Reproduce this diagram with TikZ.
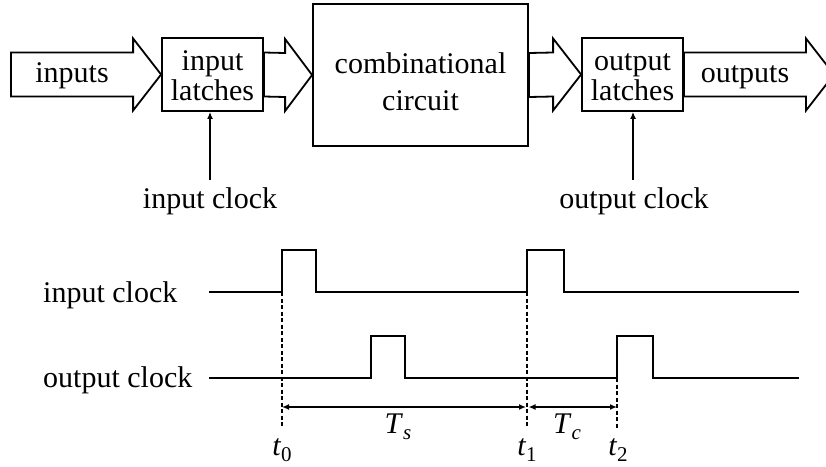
\documentclass[tikz,border=0pt]{standalone}
\usepackage{fontspec}
\setmainfont{Liberation Serif}
\usetikzlibrary{calc,arrows.meta}
\newcommand\sublab[1]{\raisebox{-6pt}{\fontsize{21}{21}\selectfont #1}}
\newcommand\fatarr[3]{% #1 start coordinate (same y as tip), #2 tip, #3 head length
  \draw[fat] ($(#1)+(0,-22)$) -- ($(#2)+(-#3,-22)$) -- ($(#2)+(-#3,-36)$) -- (#2)
    -- ($(#2)+(-#3,36)$) -- ($(#2)+(-#3,22)$) -- ($(#1)+(0,22)$) -- cycle;}
\begin{document}
\begin{tikzpicture}[x=1pt,y=-1pt,
  font=\fontsize{30}{34}\selectfont,
  box/.style={draw, line width=1.8pt, inner sep=0pt},
  fat/.style={draw, line width=1.8pt, line join=miter},
  clk/.style={-{Latex[length=7pt,width=6pt]}, line width=1.8pt},
  sig/.style={line width=1.8pt},
  dsh/.style={dash pattern=on 4pt off 2.5pt, line width=1.4pt},
  dim/.style={{Latex[length=7pt,width=6pt]}-{Latex[length=7pt,width=6pt]}, line width=1.5pt},
  lbl/.style={inner sep=0pt, anchor=base}]
\useasboundingbox (0,0) rectangle (826,466);
\clip (0,0) rectangle (826,466);

% ---------- block diagram ----------
\node[box, minimum width=101pt, minimum height=73pt] (il) at (212.5,74.5) {};
\node[box, minimum width=215pt, minimum height=142pt] (cc) at (420.5,75) {};
\node[box, minimum width=101pt, minimum height=73pt] (ol) at (632.5,74.5) {};
\coordinate (in0) at (11,74.5);
\coordinate (outtip) at (834,74.5);

\fatarr{in0}{il.west}{28}
\fatarr{il.east}{cc.west}{27}
\fatarr{cc.east}{ol.west}{28}
\fatarr{ol.east}{outtip}{28}

\node[lbl] (tin) at (72,82) {inputs};
\node[lbl] (tout) at (745,82) {outputs};
\node[lbl] (il1) at (212.5,70) {input};
\node[lbl] (il2) at (212.5,100) {latches};
\node[lbl] (cc1) at (420.5,73) {combinational};
\node[lbl] (cc2) at (420.5,110) {circuit};
\node[lbl] (ol1) at (632.5,70) {output};
\node[lbl] (ol2) at (632.5,100) {latches};

\coordinate (ic0) at (210,180);
\coordinate (oc0) at (633,180);
\draw[clk] (ic0) -- (ic0 |- il.south);
\draw[clk] (oc0) -- (oc0 |- ol.south);
\node[lbl] (icl) at (210,208) {input clock};
\node[lbl] (ocl) at (634,208) {output clock};

% ---------- timing diagram ----------
\node[lbl, anchor=base west] (ilab) at (43,302) {input clock};
\node[lbl, anchor=base west] (olab) at (43,387) {output clock};

\coordinate (t0) at (282,292);
\coordinate (t1) at (527,292);
\coordinate (t2) at (617,378);

\draw[sig] (209,292) -- (t0) -- (282,250) -- (316,250) -- (316,292) -- (t1)
  -- (527,250) -- (564,250) -- (564,292) -- (799,292);
\draw[sig] (209,378) -- (371,378) -- (371,336) -- (405,336) -- (405,378) -- (t2)
  -- (617,336) -- (653,336) -- (653,378) -- (799,378);

\coordinate (t0b) at (282,428);
\coordinate (t1b) at (527,428);
\coordinate (t2b) at (617,428);
\draw[dsh] (t0) -- (t0b);
\draw[dsh] (t1) -- (t1b);
\draw[dsh] (t2) -- (t2b);

\draw[dim] (282,407) -- (526,407);
\draw[dim] (528.5,407) -- (617,407);

\node[lbl] (ts) at (398,433) {\textit{T}\sublab{\textit{s}}};
\node[lbl] (tc) at (567,433) {\textit{T}\sublab{\textit{c}}};
\node[lbl] (l0) at (282,455) {\textit{t}\sublab{0}};
\node[lbl] (l1) at (527,455) {\textit{t}\sublab{1}};
\node[lbl] (l2) at (618,455) {\textit{t}\sublab{2}};
\end{tikzpicture}
\end{document}
